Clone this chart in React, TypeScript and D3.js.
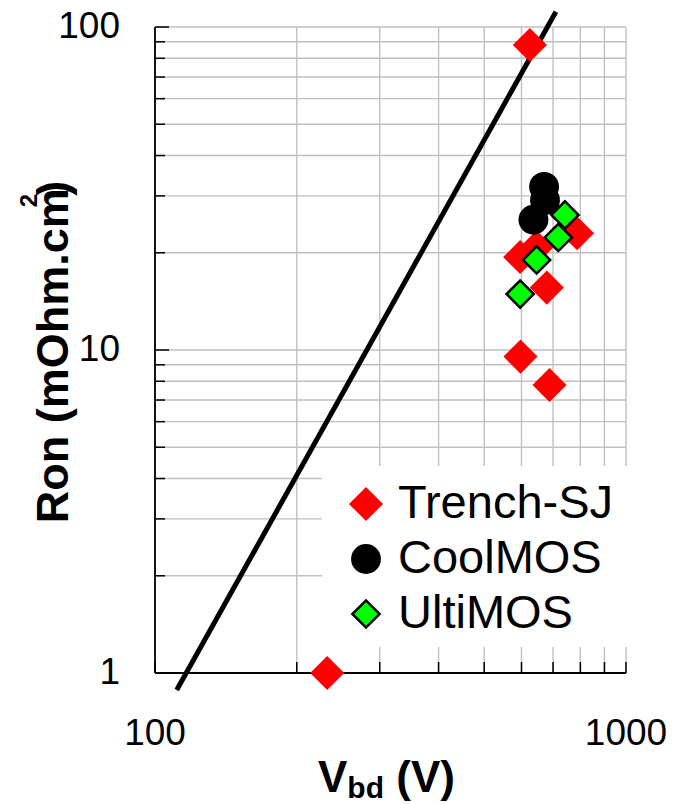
import React from "react";
import * as d3 from "d3";

// Trench-SJ devices
const trenchV = [625, 232, 596, 646, 679, 787, 597, 688];
const trenchRon = [88, 1.0, 19.4, 20.8, 15.6, 23.0, 9.54, 7.79];
// CoolMOS devices
const coolV = [670, 673, 636];
const coolRon = [32.0, 29.1, 25.3];
// UltiMOS devices
const ultiV = [742, 718, 646, 596];
const ultiRon = [26.2, 22.3, 19.0, 14.9];
// silicon limit line, two end points
const limitV = [111.2, 710];
const limitRon = [0.886, 111.5];

const yTickLabels = ["1", "10", "100"];
const xTickLabels = ["100", "1000"];
const legendNames = ["Trench-SJ", "CoolMOS", "UltiMOS"];

const FONT = "'Liberation Sans', Arial, sans-serif";

const App = () => {
  const width = 684;
  const height = 804;
  const left = 155, right = 626, top = 27, bottom = 673;

  const x = d3.scaleLog().domain([100, 1000]).range([left, right]);
  const y = d3.scaleLog().domain([1, 100]).range([bottom, top]);

  const yGrid = d3.range(1, 10).concat(d3.range(10, 101, 10));
  const xGrid = d3.range(100, 1001, 100);

  const diamondRed = d3.symbol(d3.symbolSquare, 580)();
  const diamondGreen = d3.symbol(d3.symbolSquare, 370)();
  const circle = d3.symbol(d3.symbolCircle, 700)();

  const line = d3
    .line<number>()
    .x((v) => x(v))
    .y((_, i) => y(limitRon[i]));

  const redMark = (cx: number, cy: number, k: string) => (
    <path key={k} d={diamondRed} fill="#ff0000" transform={`translate(${cx},${cy}) rotate(45)`} />
  );
  const blackMark = (cx: number, cy: number, k: string) => (
    <path key={k} d={circle} fill="#000" transform={`translate(${cx},${cy})`} />
  );
  const greenMark = (cx: number, cy: number, k: string) => (
    <path
      key={k}
      d={diamondGreen}
      fill="#00ff00"
      stroke="#000"
      strokeWidth={2.5}
      transform={`translate(${cx},${cy}) rotate(45)`}
    />
  );

  const legendMarks = [redMark, blackMark, greenMark];

  return (
    <svg
      width={width}
      height={height}
      style={{ position: "absolute", left: 0, top: 0, background: "#fff" }}
      fontFamily={FONT}
    >
      {/* grid */}
      {yGrid.map((v) => (
        <line key={"gy" + v} x1={left} x2={right} y1={y(v)} y2={y(v)} stroke="#c0c0c0" strokeWidth={1.4} />
      ))}
      {xGrid.map((v) => (
        <line key={"gx" + v} x1={x(v)} x2={x(v)} y1={top} y2={bottom} stroke="#c0c0c0" strokeWidth={1.4} />
      ))}

      {/* ticks */}
      {yGrid.map((v) => (
        <line
          key={"ty" + v}
          x1={left}
          x2={left + (v === 10 || v === 100 ? 14 : 10)}
          y1={y(v)}
          y2={y(v)}
          stroke="#000"
          strokeWidth={1.5}
        />
      ))}
      {xGrid.map((v) => (
        <line key={"tx" + v} x1={x(v)} x2={x(v)} y1={bottom - 11} y2={bottom} stroke="#000" strokeWidth={1.5} />
      ))}

      {/* axes */}
      <line x1={left} x2={left} y1={top} y2={bottom} stroke="#000" strokeWidth={1.8} />
      <line x1={left} x2={right} y1={bottom} y2={bottom} stroke="#000" strokeWidth={1.8} />

      {/* limit line */}
      <path d={line(limitV) || ""} fill="none" stroke="#000" strokeWidth={5} />

      {/* data */}
      {trenchV.map((v, i) => redMark(x(v), y(trenchRon[i]), "r" + i))}
      {coolV.map((v, i) => blackMark(x(v), y(coolRon[i]), "c" + i))}
      {ultiV.map((v, i) => greenMark(x(v), y(ultiRon[i]), "u" + i))}

      {/* tick labels */}
      {yTickLabels.map((t) => (
        <text key={"yl" + t} x={120} y={y(+t)} dy="0.3em" textAnchor="end" fontSize={37} fill="#000">
          {t}
        </text>
      ))}
      {xTickLabels.map((t) => (
        <text key={"xl" + t} x={x(+t)} y={745} textAnchor="middle" fontSize={37} fill="#000">
          {t}
        </text>
      ))}

      {/* axis titles */}
      <text x={318} y={792} fontSize={44} fontWeight="bold" fill="#000">
        V
        <tspan fontSize={30} dy={6}>bd</tspan>
        <tspan fontSize={44} dy={-6}> (V)</tspan>
      </text>
      <text
        transform="translate(68,352) rotate(-90)"
        textAnchor="middle"
        fontSize={45}
        fontWeight="bold"
        fill="#000"
      >
        Ron (mOhm.cm
        <tspan fontSize={24} dy={-31} dx={-19}>2</tspan>
        <tspan dy={31} dx={-2}>)</tspan>
      </text>

      {/* legend */}
      <rect x={322} y={466} width={312} height={181} fill="#fff" />
      {legendNames.map((name, i) => (
        <g key={name}>
          {legendMarks[i](366, 504 + i * 55, "lm" + i)}
          <text x={398} y={518 + i * 55} fontSize={47} fill="#000">
            {name}
          </text>
        </g>
      ))}
    </svg>
  );
};

export default App;
